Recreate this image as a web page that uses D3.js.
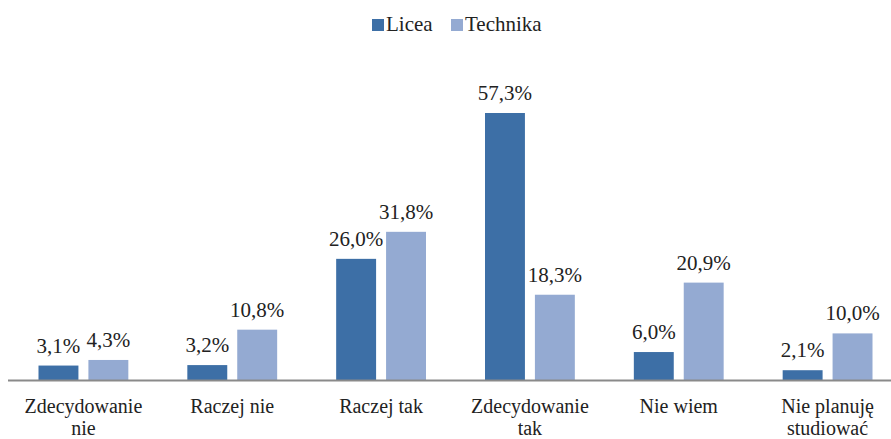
<!DOCTYPE html>
<html>
<head>
<meta charset="utf-8">
<script src="https://cdn.jsdelivr.net/npm/d3@7"></script>
</head>
<body style="margin:0">
<script>
// data
var categories = [["Zdecydowanie", "nie"], ["Raczej nie"], ["Raczej tak"], ["Zdecydowanie", "tak"], ["Nie wiem"], ["Nie planuję", "studiować"]];
var seriesNames = ["Licea", "Technika"];
var licea = [3.1, 3.2, 26.0, 57.3, 6.0, 2.1];
var technika = [4.3, 10.8, 31.8, 18.3, 20.9, 10.0];
var colors = ["#3d6fa6", "#94aad2"];

var width = 891, height = 439;
var fs = 21;
var svg = d3.select("body").append("svg")
    .attr("width", width)
    .attr("height", height);

var baseY = 380;

var x = d3.scaleBand()
    .domain(d3.range(categories.length))
    .range([9, 902]);

var inner = d3.scaleBand()
    .domain([0, 1])
    .range([29.5, x.bandwidth() - 29.5])
    .paddingInner(0.2);

var y = d3.scaleLinear()
    .domain([0, 57.3])
    .range([baseY, 113]);

var fmt = function(v) { return v.toFixed(1).replace(".", ",") + "%"; };

function label(px, py, str, anchor, size) {
    return svg.append("text")
        .attr("x", px)
        .attr("y", py)
        .attr("font-size", size || fs)
        .attr("text-anchor", anchor)
        .attr("fill", "#222")
        .style("font-family", "'Liberation Serif'")
        .text(str);
}

var series = [licea, technika];
series.forEach(function(vals, s) {
    vals.forEach(function(v, i) {
        var bx = x(i) + inner(s);
        svg.append("rect")
            .attr("x", bx)
            .attr("y", y(v))
            .attr("width", inner.bandwidth())
            .attr("height", baseY - y(v))
            .attr("fill", colors[s]);
        label(bx + inner.bandwidth() / 2, y(v) - 13, fmt(v), "middle");
    });
});

// axis line
svg.append("line")
    .attr("x1", 8).attr("x2", width)
    .attr("y1", baseY + 0.5).attr("y2", baseY + 0.5)
    .attr("stroke", "#8a8a8a")
    .attr("stroke-width", 2);

// category labels, one text per line
categories.forEach(function(lines, i) {
    lines.forEach(function(l, k) {
        label(x(i) + x.bandwidth() / 2, 413 + k * 22, l, "middle", 20);
    });
});

// legend
var legendX = [372, 451];
seriesNames.forEach(function(n, s) {
    svg.append("rect")
        .attr("x", legendX[s])
        .attr("y", 19)
        .attr("width", 12)
        .attr("height", 12)
        .attr("fill", colors[s]);
    label(legendX[s] + 14, 31, n, "start");
});
</script>
</body>
</html>
